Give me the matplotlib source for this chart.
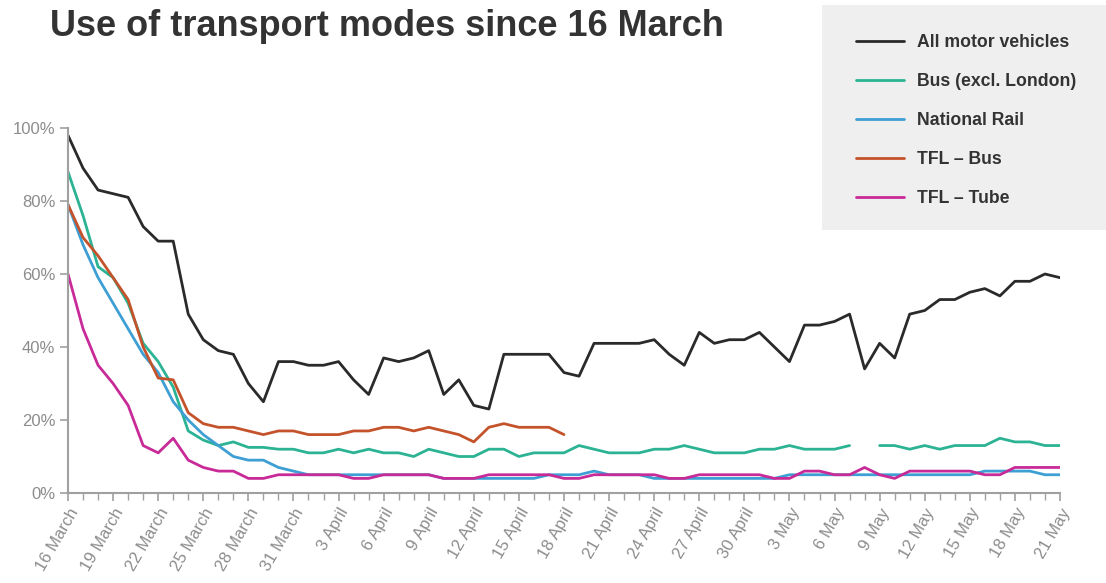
import numpy as np
import matplotlib
matplotlib.use("Agg")
import matplotlib.pyplot as plt
from matplotlib.patches import Rectangle
from matplotlib.ticker import MultipleLocator, FixedLocator

plt.rcParams['font.family'] = ['Liberation Sans', 'DejaVu Sans']

nan = np.nan

# daily values, 16 March (day 0) to 21 May (day 66), % of usual level
motor = [98, 89, 83, 82, 81, 73, 69, 69, 49, 42,
         39, 38, 30, 25, 36, 36, 35, 35, 36, 31,
         27, 37, 36, 37, 39, 27, 31, 24, 23, 38,
         38, 38, 38, 33, 32, 41, 41, 41, 41, 42,
         38, 35, 44, 41, 42, 42, 44, 40, 36, 46,
         46, 47, 49, 34, 41, 37, 49, 50, 53, 53,
         55, 56, 54, 58, 58, 60, 59]
bus_ex_london = [88, 76, 62, 59, 52, 41, 36, 29, 17, 14.5,
                 13, 14, 12.5, 12.5, 12, 12, 11, 11, 12, 11,
                 12, 11, 11, 10, 12, 11, 10, 10, 12, 12,
                 10, 11, 11, 11, 13, 12, 11, 11, 11, 12,
                 12, 13, 12, 11, 11, 11, 12, 12, 13, 12,
                 12, 12, 13, nan, 13, 13, 12, 13, 12, 13,
                 13, 13, 15, 14, 14, 13, 13]
national_rail = [79, 68, 59, 52, 45, 38, 33, 25, 20, 16,
                 13, 10, 9, 9, 7, 6, 5, 5, 5, 5,
                 5, 5, 5, 5, 5, 4, 4, 4, 4, 4,
                 4, 4, 5, 5, 5, 6, 5, 5, 5, 4,
                 4, 4, 4, 4, 4, 4, 4, 4, 5, 5,
                 5, 5, 5, 5, 5, 5, 5, 5, 5, 5,
                 5, 6, 6, 6, 6, 5, 5]
tfl_bus = [79, 70, 65, 59, 53, 40, 31.5, 31, 22, 19,
           18, 18, 17, 16, 17, 17, 16, 16, 16, 17,
           17, 18, 18, 17, 18, 17, 16, 14, 18, 19,
           18, 18, 18, 16] + [nan] * 33
tfl_tube = [60, 45, 35, 30, 24, 13, 11, 15, 9, 7,
            6, 6, 4, 4, 5, 5, 5, 5, 5, 4,
            4, 5, 5, 5, 5, 4, 4, 4, 5, 5,
            5, 5, 5, 4, 4, 5, 5, 5, 5, 5,
            4, 4, 5, 5, 5, 5, 5, 4, 4, 6,
            6, 5, 5, 7, 5, 4, 6, 6, 6, 6,
            6, 5, 5, 7, 7, 7, 7]

tick_labels = ['16 March', '19 March', '22 March', '25 March', '28 March', '31 March',
               '3 April', '6 April', '9 April', '12 April', '15 April', '18 April',
               '21 April', '24 April', '27 April', '30 April', '3 May', '6 May',
               '9 May', '12 May', '15 May', '18 May', '21 May']

series = [("All motor vehicles", motor, "#2a2a2a"),
          ("Bus (excl. London)", bus_ex_london, "#2bb393"),
          ("National Rail", national_rail, "#3d9fd3"),
          ("TFL \u2013 Bus", tfl_bus, "#c4532b"),
          ("TFL \u2013 Tube", tfl_tube, "#c82a98")]

days = np.arange(len(motor))

fig = plt.figure(figsize=(11.06, 5.83), dpi=100)
ax = fig.add_axes([68 / 1106, 1 - 493 / 583, (1060 - 68) / 1106, (493 - 128) / 583])

for name, vals, col in series:
    ax.plot(days, vals, color=col, lw=2.0, label=name, solid_capstyle='round')

ax.set_xlim(0, 66)
ax.set_ylim(0, 100)
ax.xaxis.set_major_locator(FixedLocator(days[::3]))
ax.xaxis.set_minor_locator(MultipleLocator(1))
ax.set_xticklabels(tick_labels, rotation=60, ha='right', rotation_mode='anchor')
ax.set_yticks([0, 20, 40, 60, 80, 100])
ax.set_yticklabels(['0%', '20%', '40%', '60%', '80%', '100%'])

for s in ['top', 'right']:
    ax.spines[s].set_visible(False)
for s in ['left', 'bottom']:
    ax.spines[s].set_color('#a0a0a0')
    ax.spines[s].set_linewidth(1.5)
ax.tick_params(axis='both', which='major', colors='#a0a0a0', labelcolor='#8c8c8c',
               labelsize=12, width=1.2, length=6, direction='out')
ax.tick_params(axis='x', which='minor', colors='#a0a0a0', width=1.0, length=5)
ax.tick_params(axis='x', which='major', pad=3)
ax.tick_params(axis='y', which='major', pad=3)

fig.text(50 / 1106, 1 - 27 / 583, "Use of transport modes since 16 March",
         fontsize=26, fontweight='bold', color='#333333', va='center', ha='left')

# legend panel
fig.patches.append(Rectangle((822 / 1106, 1 - 230 / 583), (1106 - 822) / 1106, 225 / 583,
                             transform=fig.transFigure, facecolor='#efefef',
                             edgecolor='none', zorder=0))
leg = fig.legend(loc='upper left', bbox_to_anchor=(856 / 1106, 1 - 34 / 583),
                 frameon=False, borderpad=0, borderaxespad=0, handlelength=2.7,
                 handletextpad=0.75, labelspacing=1.25,
                 prop={'size': 12.7, 'weight': 'bold'})
for t in leg.get_texts():
    t.set_color('#333333')

fig.savefig('out.png', dpi=100)
